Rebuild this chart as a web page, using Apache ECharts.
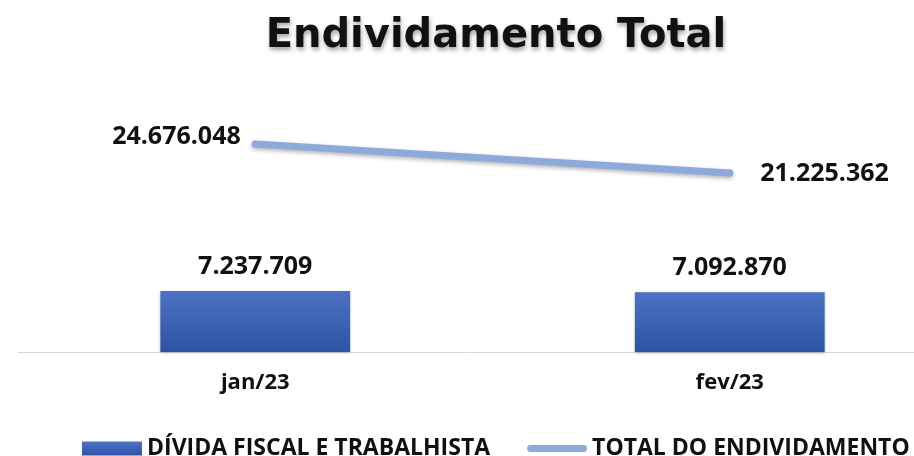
<!DOCTYPE html>
<html>
<head>
<meta charset="utf-8">
<script src="https://cdn.jsdelivr.net/npm/echarts@6/dist/echarts.min.js"></script>
<style>
  html, body { margin: 0; padding: 0; background: #fff; }
  #chart { width: 914px; height: 456px; }
</style>
</head>
<body>
<div id="chart"></div>
<script>
// dados do gráfico
const categorias = ["jan/23", "fev/23"];
const dividaFiscal = [7237709, 7092870];
const totalEndividamento = [24676048, 21225362];
const nomesSeries = ["DÍVIDA FISCAL E TRABALHISTA", "TOTAL DO ENDIVIDAMENTO"];

const chart = echarts.init(document.getElementById("chart"), null, { renderer: "canvas" });

function fmt(v) {
  // formato pt-BR com pontos
  return String(v).replace(/\B(?=(\d{3})+(?!\d))/g, ".");
}

const option = {
  backgroundColor: "#fff",
  title: {
    text: "Endividamento Total",
    left: 491,
    textAlign: "center",
    top: 12,
    textStyle: {
      fontFamily: "DejaVu Sans",
      fontWeight: "bold",
      fontSize: 40,
      color: "#111",
      textShadowColor: "rgba(0,0,0,0.35)",
      textShadowBlur: 4,
      textShadowOffsetX: 1,
      textShadowOffsetY: 3
    }
  },
  grid: { left: 18, width: 949, top: 99, bottom: 104, outerBoundsMode: "none", containLabel: false },
  legend: {
    top: 432,
    left: 77,
    width: 900,
    itemGap: 37,
    itemWidth: 60,
    itemHeight: 14,
    textStyle: { fontFamily: "Open Sans", fontWeight: "bold", fontSize: 23, color: "#111" },
    data: [
      { name: nomesSeries[0], icon: "rect" },
      {
        name: nomesSeries[1],
        icon: "path://M0,0L0,0.01M3.5,3.5L56.5,3.5A3.5,3.5,0,0,1,56.5,10.5L3.5,10.5A3.5,3.5,0,0,1,3.5,3.5ZM60,14L60,14.01",
        itemStyle: { color: "#8eaadb" }
      }
    ]
  },
  xAxis: {
    type: "category",
    data: categorias,
    axisLine: { lineStyle: { color: "#d9d9d9", width: 1 } },
    axisTick: { show: false },
    axisLabel: { margin: 20, fontFamily: "Open Sans", fontWeight: "bold", fontSize: 22, color: "#111" }
  },
  yAxis: {
    type: "value",
    min: 0,
    max: 30000000,
    show: false,
    splitLine: { show: false }
  },
  series: [
    {
      name: nomesSeries[0],
      type: "bar",
      data: dividaFiscal,
      barWidth: "40%",
      itemStyle: {
        color: new echarts.graphic.LinearGradient(0, 0, 0, 1, [
          { offset: 0, color: "#4e72c2" },
          { offset: 1, color: "#2c53a5" }
        ]),
        shadowColor: "rgba(0,0,0,0.3)",
        shadowBlur: 3,
        shadowOffsetY: 1
      },
      label: {
        show: true,
        position: "top",
        distance: 12,
        formatter: (p) => fmt(p.value),
        fontFamily: "Open Sans",
        fontWeight: "bold",
        fontSize: 25,
        color: "#111"
      }
    },
    {
      name: nomesSeries[1],
      type: "line",
      data: totalEndividamento.map((v, i) => ({
        value: v,
        label: { position: i === 0 ? "left" : "right", distance: i === 0 ? 11 : 27, offset: i === 0 ? [0, -7] : [0, 1] }
      })),
      symbol: "circle",
      symbolSize: 7,
      lineStyle: {
        color: "#8eaadb",
        width: 7,
        cap: "round",
        shadowColor: "rgba(0,0,0,0.3)",
        shadowBlur: 4,
        shadowOffsetY: 2
      },
      itemStyle: { color: "#8eaadb" },
      label: {
        show: true,
        formatter: (p) => fmt(p.value),
        fontFamily: "Open Sans",
        fontWeight: "bold",
        fontSize: 25,
        color: "#111"
      }
    }
  ]
};

chart.setOption(option);
</script>
</body>
</html>
